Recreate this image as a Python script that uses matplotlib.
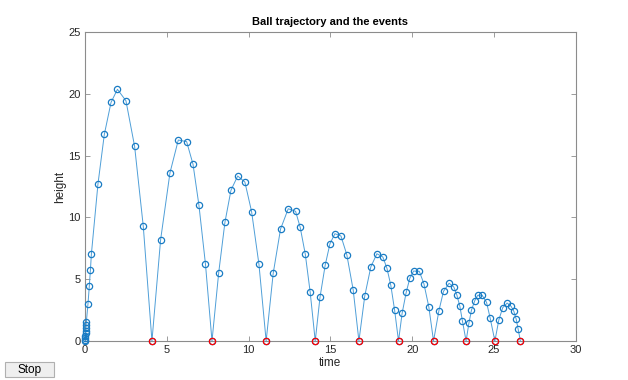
import matplotlib
matplotlib.use("Agg")
import matplotlib.pyplot as plt
from matplotlib.patches import FancyBboxPatch

plt.rcParams['font.family'] = ['Liberation Sans', 'DejaVu Sans']

# Trajectory samples (time, height)
t = [0.0, 0.005, 0.01, 0.02, 0.03, 0.04, 0.05, 0.065, 0.08,
     0.18, 0.26, 0.33, 0.39, 0.79, 1.18, 1.59, 1.98, 2.50, 3.03, 3.56, 4.09,
     4.62, 5.19, 5.70, 6.21, 6.60, 6.96, 7.36, 7.76,
     8.17, 8.55, 8.92, 9.33, 9.77, 10.18, 10.63, 11.07,
     11.50, 11.95, 12.42, 12.87, 13.15, 13.46, 13.76, 14.07,
     14.36, 14.68, 14.97, 15.27, 15.64, 16.00, 16.39, 16.74,
     17.10, 17.47, 17.84, 18.20, 18.45, 18.69, 18.92, 19.16,
     19.38, 19.63, 19.85, 20.08, 20.43, 20.71, 21.01, 21.30,
     21.63, 21.91, 22.25, 22.54, 22.72, 22.91, 23.07, 23.29,
     23.46, 23.62, 23.82, 24.00, 24.27, 24.54, 24.76, 25.05,
     25.29, 25.53, 25.80, 26.04, 26.21, 26.35, 26.47, 26.61]
h = [0.0, 0.08, 0.22, 0.40, 0.62, 0.81, 1.03, 1.27, 1.54,
     3.00, 4.42, 5.77, 7.06, 12.70, 16.72, 19.31, 20.36, 19.44, 15.75, 9.28, 0.0,
     8.20, 13.60, 16.26, 16.13, 14.30, 11.00, 6.23, 0.0,
     5.53, 9.60, 12.20, 13.35, 12.86, 10.47, 6.20, 0.0,
     5.47, 9.06, 10.70, 10.49, 9.20, 7.04, 3.96, 0.0,
     3.53, 6.15, 7.87, 8.68, 8.50, 6.98, 4.13, 0.0,
     3.67, 6.01, 7.06, 6.80, 5.90, 4.50, 2.51, 0.0,
     2.24, 3.94, 5.07, 5.66, 5.64, 4.64, 2.78, 0.0,
     2.46, 4.02, 4.67, 4.37, 3.75, 2.81, 1.59, 0.0,
     1.43, 2.51, 3.26, 3.70, 3.70, 3.13, 1.86, 0.0,
     1.70, 2.70, 3.07, 2.81, 2.40, 1.78, 0.97, 0.0]

# Event times (ball hits the ground)
te = [4.09, 7.76, 11.07, 14.07, 16.74, 19.16, 21.30, 23.29, 25.05, 26.61]
ye = [0.0] * len(te)

fig = plt.figure(figsize=(6.28, 3.80), dpi=100)
fig.patch.set_facecolor('white')
ax = fig.add_axes([0.1354, 0.1026, 0.7816, 0.8132])

ax.plot(t, h, '-', color='#4f9fd8', lw=0.7, clip_on=False, zorder=3)
ax.plot(t, h, 'o', color='#1a7cc4', ms=4.5, mfc='none', mew=0.9,
        clip_on=False, zorder=3)
ax.plot(te, ye, 'o', color='#FF0000', ms=4.5, mfc='none', mew=0.9,
        clip_on=False, zorder=4)

ax.set_xlim(0, 30)
ax.set_ylim(0, 25)
ax.set_xticks([0, 5, 10, 15, 20, 25, 30])
ax.set_yticks([0, 5, 10, 15, 20, 25])

gray = '#262626'
for s in ax.spines.values():
    s.set_color('#8c8c8c')
    s.set_linewidth(0.8)
ax.tick_params(direction='in', length=3.5, width=0.6, color='#8c8c8c',
               labelcolor=gray, labelsize=8, top=True, right=True, pad=3)

ax.set_title('Ball trajectory and the events', fontsize=8, fontweight='bold',
             color='black', pad=5)
ax.set_xlabel('time', fontsize=8.5, color=gray, labelpad=1)
ax.set_ylabel('height', fontsize=8.5, color=gray, labelpad=2)

# Stop button
btn = FancyBboxPatch((5 / 628, 3 / 380), 49 / 628, 15 / 380,
                     boxstyle='square,pad=0', transform=fig.transFigure,
                     facecolor='#efefef', edgecolor='#b0b0b0', lw=0.8)
fig.patches.append(btn)
fig.text(29.5 / 628, 10.5 / 380, 'Stop', ha='center', va='center',
         fontsize=8.5, color='black')

fig.savefig('out.png', dpi=100, facecolor='white')
